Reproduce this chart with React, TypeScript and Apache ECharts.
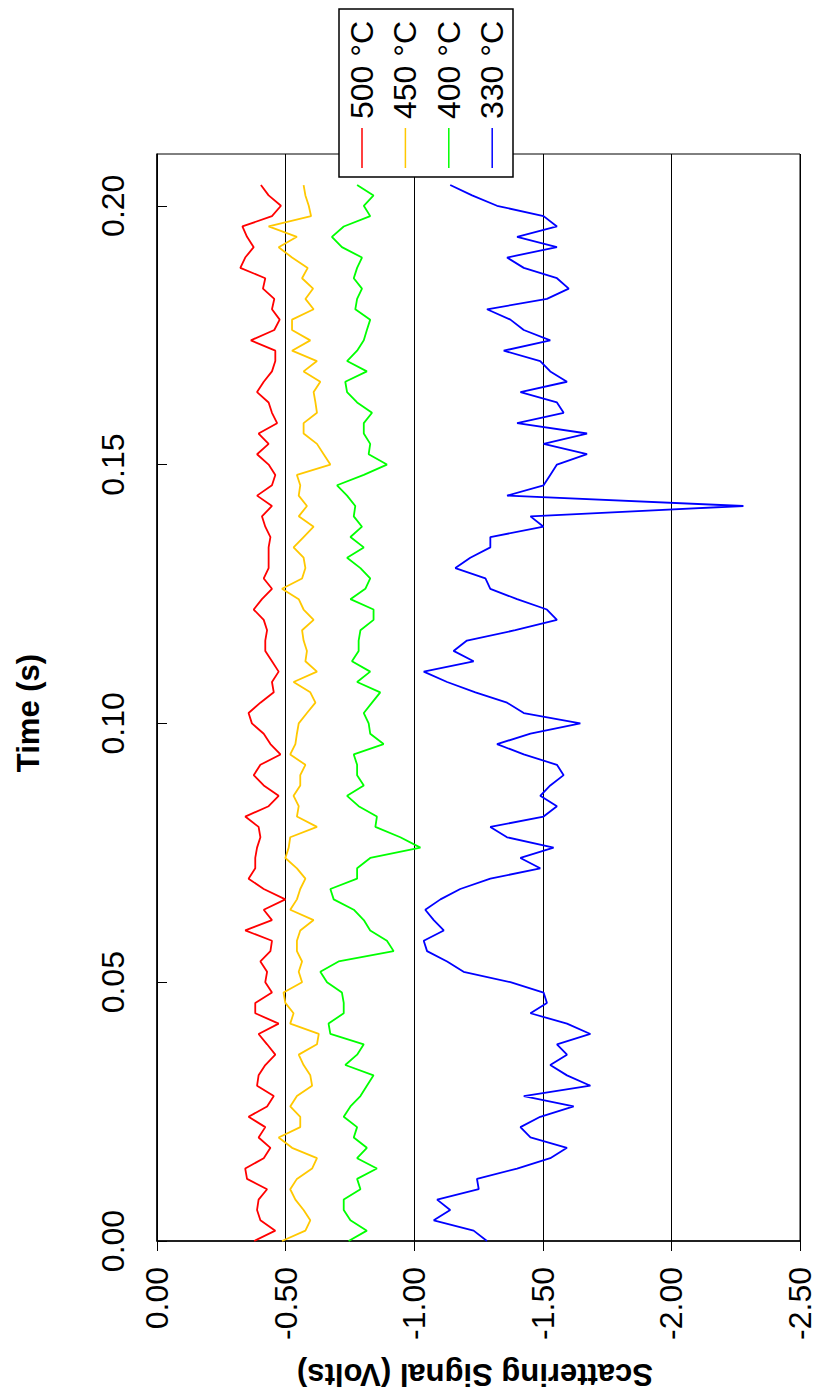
import React, { useEffect, useRef } from "react";
import * as echarts from "echarts";

const TIMES = [
  0.000, 0.002, 0.004, 0.006, 0.008, 0.010, 0.012, 0.014, 0.016, 0.018,
  0.020, 0.022, 0.024, 0.026, 0.028, 0.030, 0.032, 0.034, 0.036, 0.038,
  0.040, 0.042, 0.044, 0.046, 0.048, 0.050, 0.052, 0.054, 0.056, 0.058,
  0.060, 0.062, 0.064, 0.066, 0.068, 0.070, 0.072, 0.074, 0.076, 0.078,
  0.080, 0.082, 0.084, 0.086, 0.088, 0.090, 0.092, 0.094, 0.096, 0.098,
  0.100, 0.102, 0.104, 0.106, 0.108, 0.110, 0.112, 0.114, 0.116, 0.118,
  0.120, 0.122, 0.124, 0.126, 0.128, 0.130, 0.132, 0.134, 0.136, 0.138,
  0.140, 0.142, 0.144, 0.146, 0.148, 0.150, 0.152, 0.154, 0.156, 0.158,
  0.160, 0.162, 0.164, 0.166, 0.168, 0.170, 0.172, 0.174, 0.176, 0.178,
  0.180, 0.182, 0.184, 0.186, 0.188, 0.190, 0.192, 0.194, 0.196, 0.198,
  0.200, 0.202, 0.204,
];

const SIGNAL_500 = [
  -0.378, -0.460, -0.402, -0.389, -0.395, -0.428, -0.350, -0.343, -0.415, -0.441,
  -0.395, -0.421, -0.356, -0.428, -0.454, -0.389, -0.395, -0.421, -0.460, -0.428,
  -0.395, -0.473, -0.382, -0.382, -0.447, -0.421, -0.428, -0.402, -0.441, -0.447,
  -0.343, -0.447, -0.415, -0.499, -0.415, -0.356, -0.382, -0.382, -0.389, -0.402,
  -0.395, -0.343, -0.434, -0.473, -0.415, -0.376, -0.402, -0.480, -0.441, -0.415,
  -0.369, -0.356, -0.402, -0.454, -0.447, -0.473, -0.447, -0.421, -0.421, -0.428,
  -0.415, -0.376, -0.408, -0.447, -0.415, -0.434, -0.434, -0.434, -0.441, -0.421,
  -0.408, -0.447, -0.389, -0.447, -0.460, -0.434, -0.389, -0.434, -0.395, -0.467,
  -0.447, -0.434, -0.389, -0.415, -0.447, -0.460, -0.460, -0.365, -0.456, -0.477,
  -0.447, -0.456, -0.412, -0.421, -0.324, -0.343, -0.376, -0.350, -0.332, -0.447,
  -0.482, -0.434, -0.404,
];

const SIGNAL_450 = [
  -0.486, -0.577, -0.596, -0.570, -0.538, -0.518, -0.544, -0.603, -0.622, -0.525,
  -0.473, -0.557, -0.557, -0.518, -0.544, -0.603, -0.596, -0.570, -0.551, -0.622,
  -0.629, -0.518, -0.531, -0.499, -0.492, -0.564, -0.551, -0.564, -0.544, -0.544,
  -0.557, -0.609, -0.518, -0.544, -0.557, -0.577, -0.544, -0.499, -0.512, -0.518,
  -0.622, -0.544, -0.551, -0.531, -0.557, -0.557, -0.577, -0.518, -0.538, -0.544,
  -0.551, -0.583, -0.616, -0.596, -0.531, -0.622, -0.577, -0.583, -0.570, -0.564,
  -0.609, -0.570, -0.551, -0.486, -0.564, -0.577, -0.570, -0.531, -0.570, -0.609,
  -0.551, -0.583, -0.551, -0.557, -0.544, -0.674, -0.648, -0.622, -0.570, -0.570,
  -0.622, -0.616, -0.609, -0.635, -0.570, -0.622, -0.525, -0.596, -0.525, -0.525,
  -0.609, -0.577, -0.607, -0.564, -0.586, -0.525, -0.473, -0.544, -0.434, -0.599,
  -0.590, -0.577, -0.570,
];

const SIGNAL_400 = [
  -0.745, -0.816, -0.752, -0.726, -0.726, -0.791, -0.778, -0.855, -0.778, -0.816,
  -0.765, -0.778, -0.726, -0.752, -0.791, -0.816, -0.842, -0.732, -0.778, -0.804,
  -0.674, -0.667, -0.726, -0.726, -0.719, -0.661, -0.635, -0.706, -0.920, -0.894,
  -0.829, -0.804, -0.765, -0.687, -0.674, -0.778, -0.778, -0.829, -1.024, -0.946,
  -0.849, -0.855, -0.784, -0.739, -0.804, -0.778, -0.778, -0.765, -0.881, -0.829,
  -0.823, -0.804, -0.836, -0.868, -0.778, -0.829, -0.758, -0.784, -0.784, -0.791,
  -0.842, -0.842, -0.752, -0.810, -0.829, -0.791, -0.739, -0.804, -0.752, -0.797,
  -0.765, -0.771, -0.739, -0.700, -0.804, -0.894, -0.823, -0.829, -0.804, -0.804,
  -0.836, -0.778, -0.739, -0.732, -0.816, -0.739, -0.778, -0.804, -0.816, -0.829,
  -0.771, -0.778, -0.797, -0.765, -0.778, -0.797, -0.719, -0.680, -0.726, -0.829,
  -0.804, -0.842, -0.778,
];

const SIGNAL_330 = [
  -1.283, -1.231, -1.076, -1.140, -1.089, -1.251, -1.244, -1.400, -1.529, -1.594,
  -1.452, -1.413, -1.490, -1.620, -1.426, -1.685, -1.594, -1.529, -1.594, -1.555,
  -1.685, -1.594, -1.452, -1.516, -1.503, -1.374, -1.192, -1.128, -1.050, -1.037,
  -1.115, -1.076, -1.043, -1.102, -1.179, -1.296, -1.490, -1.413, -1.542, -1.361,
  -1.296, -1.503, -1.555, -1.490, -1.529, -1.581, -1.555, -1.426, -1.322, -1.452,
  -1.646, -1.426, -1.361, -1.238, -1.128, -1.037, -1.231, -1.153, -1.205, -1.393,
  -1.555, -1.516, -1.400, -1.296, -1.277, -1.160, -1.218, -1.296, -1.296, -1.503,
  -1.452, -2.280, -1.361, -1.503, -1.529, -1.555, -1.672, -1.503, -1.672, -1.400,
  -1.581, -1.555, -1.413, -1.594, -1.529, -1.490, -1.348, -1.529, -1.426, -1.374,
  -1.283, -1.516, -1.601, -1.555, -1.426, -1.361, -1.555, -1.400, -1.555, -1.503,
  -1.322, -1.225, -1.140,
];

const SERIES_NAMES = ["500 °C", "450 °C", "400 °C", "330 °C"];
const SERIES_COLORS = ["#ff0000", "#ffc800", "#00ff00", "#0000ff"];
const SERIES_VALUES = [SIGNAL_500, SIGNAL_450, SIGNAL_400, SIGNAL_330];

const TIME_TICKS = [0, 0.05, 0.1, 0.15, 0.2];
const X_TITLE = "Scattering Signal (Volts)";
const Y_TITLE = "Time (s)";

const FONT = "'Liberation Sans', Arial, Helvetica, sans-serif";

export default function App() {
  const ref = useRef<HTMLDivElement>(null);

  useEffect(() => {
    document.body.style.margin = "0";
    if (!ref.current) return;
    const chart = echarts.init(ref.current, undefined, { renderer: "svg" });

    const legendX0 = 362;
    const legendDX = 43.4;

    const graphics: any[] = [
      {
        type: "text",
        x: 28,
        y: 713,
        rotation: Math.PI / 2,
        style: {
          text: Y_TITLE,
          font: `bold 31px ${FONT}`,
          fill: "#000",
          textAlign: "center",
          textVerticalAlign: "middle",
        },
      },
      {
        type: "text",
        x: 475,
        y: 1374,
        rotation: Math.PI,
        style: {
          text: X_TITLE,
          font: `bold 31px ${FONT}`,
          fill: "#000",
          textAlign: "center",
          textVerticalAlign: "middle",
        },
      },
      {
        type: "rect",
        z: 100,
        shape: { x: 339, y: 9, width: 174, height: 168 },
        style: { fill: "#fff", stroke: "#000", lineWidth: 1.5 },
      },
    ];
    SERIES_NAMES.forEach((name, i) => {
      const x = legendX0 + i * legendDX;
      graphics.push({
        type: "line",
        z: 101,
        shape: { x1: x, y1: 128, x2: x, y2: 168 },
        style: { stroke: SERIES_COLORS[i], lineWidth: 1.5 },
      });
      graphics.push({
        type: "text",
        z: 101,
        x: x,
        y: 70,
        rotation: Math.PI / 2,
        style: {
          text: name,
          font: `32px ${FONT}`,
          fill: "#000",
          textAlign: "center",
          textVerticalAlign: "middle",
        },
      });
    });

    const option: any = {
      animation: false,
      backgroundColor: "#fff",
      grid: {
        left: 157,
        right: 15,
        top: 154,
        bottom: 156,
        containLabel: false,
        outerBoundsMode: "none",
        show: true,
        borderColor: "#000",
        borderWidth: 1,
        backgroundColor: "transparent",
      },
      xAxis: {
        type: "value",
        min: -2.5,
        max: 0,
        interval: 0.5,
        inverse: true,
        axisLine: { show: true, onZero: false, lineStyle: { color: "#000", width: 1.5 } },
        axisTick: { show: true, inside: false, length: 10, lineStyle: { color: "#000", width: 1 } },
        axisLabel: {
          rotate: 90,
          margin: 26,
          fontSize: 32,
          lineHeight: 26,
          fontFamily: FONT,
          color: "#000",
          formatter: (v: number) => v.toFixed(2),
        },
        splitLine: { show: true, lineStyle: { color: "#000", width: 1 } },
      },
      yAxis: {
        type: "value",
        min: 0,
        max: 0.21,
        axisLine: { show: true, onZero: false, lineStyle: { color: "#000", width: 1.5 } },
        axisTick: {
          show: true,
          inside: true,
          length: 10,
          customValues: TIME_TICKS,
          lineStyle: { color: "#000", width: 1 },
        },
        axisLabel: {
          rotate: 90,
          margin: 28,
          fontSize: 32,
          fontFamily: FONT,
          color: "#000",
          customValues: TIME_TICKS,
          formatter: (v: number) => v.toFixed(2),
        },
        splitLine: { show: false },
      },
      series: SERIES_VALUES.map((vals, i) => ({
        name: SERIES_NAMES[i],
        type: "line",
        showSymbol: false,
        symbol: "none",
        data: TIMES.map((t, j) => [vals[j], t]),
        lineStyle: { color: SERIES_COLORS[i], width: 1.8 },
        itemStyle: { color: SERIES_COLORS[i] },
        z: 3,
      })),
      graphic: graphics,
    };

    chart.setOption(option);
    return () => chart.dispose();
  }, []);

  return (
    <div
      ref={ref}
      style={{ position: "absolute", left: 0, top: 0, width: 815, height: 1397 }}
    />
  );
}
